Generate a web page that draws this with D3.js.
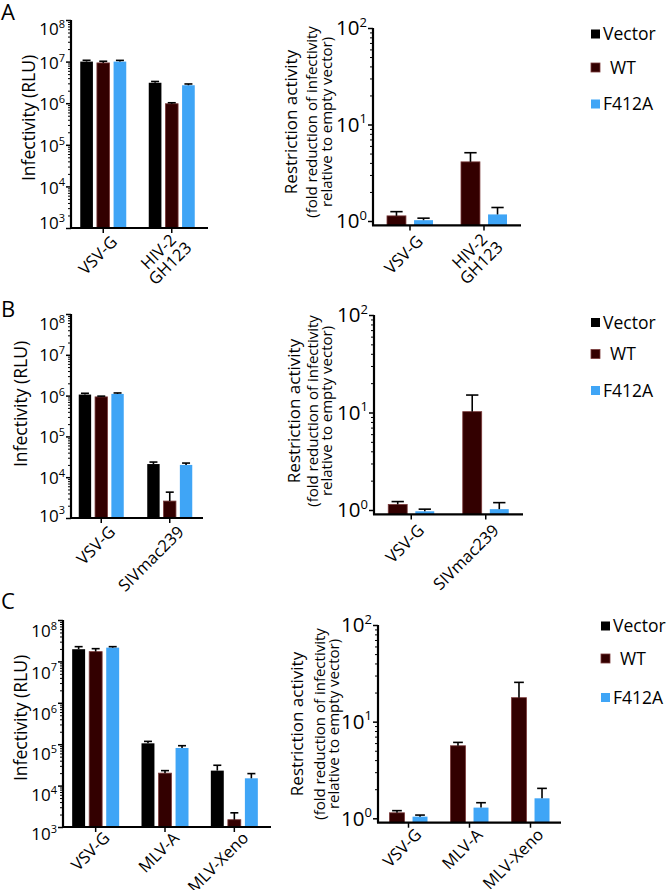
<!DOCTYPE html>
<html><head><meta charset="utf-8">
<script src="https://cdn.jsdelivr.net/npm/d3@7"></script>
<style>body{margin:0;background:#fff} svg{display:block} text{font-family:"Open Sans",sans-serif;fill:#000}</style>
</head><body><svg id="c" width="666" height="890"></svg>
<script>
// ---------- data ----------
const series = ["Vector", "WT", "F412A"];
const seriesColors = ["#000000", "#330000", "#3fa5f6"];
const seriesStroke = ["#000000", "#7a3a3a", "#3fa5f6"];
const resSeries = ["WT", "F412A"];

const leftTicks = [1e3, 1e4, 1e5, 1e6, 1e7, 1e8];
const rightTicks = [1, 10, 100];

// Panel A
const catsA = ["VSV-G", "HIV-2\nGH123"];
const infA_Vector = [1.0e7, 3.1e6];
const infA_Vector_err = [0.75e6, 0.23e6];
const infA_WT = [9.3e6, 0.97e6];
const infA_WT_err = [0.9e6, 0.055e6];
const infA_F412A = [1.0e7, 2.7e6];
const infA_F412A_err = [0.7e6, 0.2e6];
const resA_WT = [1.13, 4.1];
const resA_WT_err = [0.12, 1.0];
const resA_F412A = [1.02, 1.17];
const resA_F412A_err = [0.05, 0.21];

// Panel B
const catsB = ["VSV-G", "SIVmac239"];
const infB_Vector = [1.06e6, 2.1e4];
const infB_Vector_err = [0.08e6, 0.25e4];
const infB_WT = [0.93e6, 2.6e3];
const infB_WT_err = [0.04e6, 1.7e3];
const infB_F412A = [1.1e6, 2.0e4];
const infB_F412A_err = [0.06e6, 0.22e4];
const resB_WT = [1.14, 10.2];
const resB_WT_err = [0.08, 4.9];
const resB_F412A = [0.97, 1.02];
const resB_F412A_err = [0.05, 0.17];

// Panel C
const catsC = ["VSV-G", "MLV-A", "MLV-Xeno"];
const infC_Vector = [1.97e7, 1.05e5, 2.3e4];
const infC_Vector_err = [0.3e7, 0.12e5, 0.8e4];
const infC_WT = [1.72e7, 2.0e4, 1.5e3];
const infC_WT_err = [0.31e7, 0.3e4, 0.7e3];
const infC_F412A = [2.15e7, 8.1e4, 1.5e4];
const infC_F412A_err = [0.12e7, 1.1e4, 0.45e4];
const resC_WT = [1.14, 5.63, 17.7];
const resC_WT_err = [0.06, 0.47, 7.8];
const resC_F412A = [1.04, 1.29, 1.61];
const resC_F412A_err = [0.04, 0.16, 0.43];

// ---------- drawing ----------
const svg = d3.select("#c");
svg.append("rect").attr("width", 666).attr("height", 890).attr("fill", "#fff");

function powLabel(text, exp, baseSize, expSize) {
  text.append("tspan").text("10");
  text.append("tspan").attr("dy", -baseSize * 0.42).attr("font-size", expSize).text(exp);
}

function catLabel(g, x, y, label, size) {
  const lines = label.split("\n");
  const t = g.append("g").attr("transform", `translate(${x},${y}) rotate(-45)`);
  const texts = lines.map((ln, i) => t.append("text")
    .attr("text-anchor", "end").attr("font-size", size)
    .attr("y", (i - (lines.length - 1) / 2) * size * 1.0)
    .attr("dy", "0.35em").text(ln));
  const widths = texts.map(tx => tx.node().getComputedTextLength());
  const mw = Math.max(...widths);
  texts.forEach((tx, i) => tx.attr("x", -(mw - widths[i]) / 2));
}

function minorValues(k0, k1) {
  const out = [];
  for (let k = k0; k <= k1; k++) for (let m = 2; m <= 9; m++) out.push(m * Math.pow(10, k));
  return out;
}

function drawBars(g, x, xs, y, base, cats, names, vals, errs, capW) {
  names.forEach((s, si) => {
    const ci = series.indexOf(s);
    const data = cats.map((c, i) => ({ c, v: vals[si][i], e: errs[si][i] }));
    g.selectAll(null).data(data).enter().append("rect")
      .attr("x", d => x(d.c) + x.bandwidth() / 2 + xs(s))
      .attr("width", xs.bandwidth())
      .attr("y", d => y(d.v))
      .attr("height", d => base - y(d.v))
      .attr("fill", seriesColors[ci])
      .attr("stroke", seriesStroke[ci]).attr("stroke-width", ci === 1 ? 0.8 : 0);
    const cx = d => x(d.c) + x.bandwidth() / 2 + xs(s) + xs.bandwidth() / 2;
    g.selectAll(null).data(data).enter().append("line")
      .attr("x1", cx).attr("x2", cx)
      .attr("y1", d => y(d.v)).attr("y2", d => y(d.v + d.e))
      .attr("stroke", "#000").attr("stroke-width", 1.6);
    g.selectAll(null).data(data).enter().append("line")
      .attr("x1", d => cx(d) - capW / 2).attr("x2", d => cx(d) + capW / 2)
      .attr("y1", d => y(d.v + d.e)).attr("y2", d => y(d.v + d.e))
      .attr("stroke", "#000").attr("stroke-width", 1.6);
  });
}

function yAxis(g, y, axisX, ticks, minors, baseSize, expSize, top, bottom, labelAdj) {
  g.append("g").attr("transform", `translate(${axisX},0)`)
    .call(d3.axisLeft(y).tickValues(minors).tickSize(3).tickFormat(""))
    .call(a => a.select(".domain").remove())
    .call(a => a.selectAll("line").attr("stroke-width", 1));
  g.append("g").attr("transform", `translate(${axisX},0)`)
    .call(d3.axisLeft(y).tickValues(ticks).tickSize(5).tickFormat(""))
    .call(a => a.select(".domain").remove())
    .call(a => a.selectAll("line").attr("stroke-width", 1.5));
  g.append("line").attr("x1", axisX).attr("x2", axisX).attr("y1", top).attr("y2", bottom)
    .attr("stroke", "#000").attr("stroke-width", 2.2);
  ticks.forEach((t, i) => {
    const tx = g.append("text").attr("text-anchor", "end").attr("font-size", baseSize)
      .attr("x", axisX - 6).attr("y", y(t) + baseSize * 0.36 + (labelAdj ? labelAdj[i] : 0));
    powLabel(tx, Math.round(Math.log10(t)), baseSize, expSize);
  });
}

function xAxis(g, x, cats, axisX, endX, yb, labelSize, lx, ly) {
  g.append("line").attr("x1", axisX - 1).attr("x2", endX).attr("y1", yb).attr("y2", yb)
    .attr("stroke", "#000").attr("stroke-width", 2.2);
  g.append("g").attr("transform", `translate(0,${yb})`)
    .call(d3.axisBottom(x).tickSize(5).tickFormat(""))
    .call(a => a.select(".domain").remove())
    .call(a => a.selectAll("line").attr("stroke-width", 1.5));
  cats.forEach(c => catLabel(g, x(c) + x.bandwidth() / 2 + lx, yb + ly, c, labelSize));
}

function drawInf(cfg) {
  const g = svg.append("g");
  const y = d3.scaleLog().domain([1e3, 1e8]).range([cfg.yb, cfg.yt]);
  const x = d3.scaleBand().domain(cfg.cats).range(cfg.band).padding(0);
  const xs = d3.scaleBand().domain(series).range([-cfg.gw / 2, cfg.gw / 2]).paddingInner(0.24);
  drawBars(g, x, xs, y, cfg.yb, cfg.cats, series, cfg.vals, cfg.errs, 8);
  yAxis(g, y, cfg.ax, leftTicks, minorValues(3, 7), 17, 11, cfg.yt, cfg.yb, cfg.labAdj);
  xAxis(g, x, cfg.cats, cfg.ax, cfg.ex, cfg.yb, 16.5, 11, cfg.cly);
  g.append("text").attr("transform", `translate(${cfg.tx},${cfg.ty}) rotate(-90)`)
    .attr("text-anchor", "middle").attr("font-size", 17.5).attr("dy", "0.35em")
    .text("Infectivity (RLU)");
  g.append("text").attr("x", 1).attr("y", cfg.ly).attr("font-size", 22).text(cfg.letter);
}

function drawRes(cfg) {
  const g = svg.append("g");
  const y = d3.scaleLog().domain([1, 100]).range([cfg.y0, cfg.y2]);
  const yb = y(0.9);
  const x = d3.scaleBand().domain(cfg.cats).range([cfg.ax, cfg.ex]).padding(0);
  const xs = d3.scaleBand().domain(resSeries).range([-cfg.gw / 2, cfg.gw / 2]).paddingInner(cfg.pin);
  drawBars(g, x, xs, y, yb, cfg.cats, resSeries, cfg.vals, cfg.errs, xs.bandwidth() * 0.65);
  yAxis(g, y, cfg.ax, rightTicks, minorValues(0, 1), 20.5, 13, y(100), yb, null);
  xAxis(g, x, cfg.cats, cfg.ax, cfg.ex, yb, 16.5, 10, cfg.cly);
  const cy = cfg.cy;
  g.append("text").attr("transform", `translate(${cfg.lx[0]},${cy}) rotate(-90)`)
    .attr("text-anchor", "middle").attr("font-size", 17).attr("dy", "0.35em")
    .text("Restriction activity");
  g.append("text").attr("transform", `translate(${cfg.lx[1]},${cy}) rotate(-90)`)
    .attr("text-anchor", "middle").attr("font-size", 15).attr("dy", "0.35em")
    .text("(fold reduction of infectivity");
  g.append("text").attr("transform", `translate(${cfg.lx[2]},${cy}) rotate(-90)`)
    .attr("text-anchor", "middle").attr("font-size", 15).attr("dy", "0.35em")
    .text("relative to empty vector)");
  // legend
  const lg = g.append("g");
  series.forEach((s, i) => {
    lg.append("rect").attr("x", cfg.legX).attr("y", cfg.legY[i] - 4.5).attr("width", 9).attr("height", 9)
      .attr("fill", seriesColors[i]).attr("stroke", seriesStroke[i]).attr("stroke-width", i === 1 ? 0.8 : 0);
    lg.append("text").attr("x", cfg.legTX[i]).attr("y", cfg.legY[i]).attr("dy", "0.36em")
      .attr("font-size", 17.5).text(s);
  });
}

// Panel A
drawInf({ letter: "A", ly: 20, cats: catsA, vals: [infA_Vector, infA_WT, infA_F412A],
  errs: [infA_Vector_err, infA_WT_err, infA_F412A_err], cly: 11,
  yb: 228, yt: 20, ax: 71, ex: 208, band: [69, 206], gw: 46, tx: 29, ty: 118,
  labAdj: [-5, 1, 1, 1, 1, 9] });
drawRes({ cats: catsA, vals: [resA_WT, resA_F412A], errs: [resA_WT_err, resA_F412A_err], cly: 13,
  y0: 221, y2: 28, ax: 373, ex: 521, gw: 46, pin: 0.3, lx: [291, 312, 327], cy: 122,
  legX: 591, legY: [34, 67.5, 104], legTX: [603, 610, 603] });

// Panel B
drawInf({ letter: "B", ly: 317, cats: catsB, vals: [infB_Vector, infB_WT, infB_F412A],
  errs: [infB_Vector_err, infB_WT_err, infB_F412A_err], cly: 11,
  yb: 518, yt: 314, ax: 71, ex: 203, band: [67, 204], gw: 45, tx: 21, ty: 404,
  labAdj: [-2.5, 1, 0.5, 1, 0, 10] });
drawRes({ cats: catsB, vals: [resB_WT, resB_F412A], errs: [resB_WT_err, resB_F412A_err], cly: 13,
  y0: 510, y2: 315, ax: 374, ex: 523, gw: 46, pin: 0.3, lx: [294, 313, 327], cy: 411,
  legX: 591, legY: [322.5, 354, 390.5], legTX: [603, 610, 603] });

// Panel C
drawInf({ letter: "C", ly: 609, cats: catsC, vals: [infC_Vector, infC_WT, infC_F412A],
  errs: [infC_Vector_err, infC_WT_err, infC_F412A_err], cly: 8,
  yb: 827, yt: 620, ax: 63, ex: 271, band: [61, 269], gw: 47, tx: 21, ty: 718,
  labAdj: [7, 9, 10, 11, 11, 11] });
drawRes({ cats: catsC, vals: [resC_WT, resC_F412A], errs: [resC_WT_err, resC_F412A_err], cly: 9,
  y0: 818.3, y2: 625, ax: 378, ex: 561, gw: 38, pin: 0.35, lx: [297, 320, 334], cy: 724,
  legX: 601, legY: [626, 658.5, 697.5], legTX: [613, 620, 613] });
</script></body></html>
